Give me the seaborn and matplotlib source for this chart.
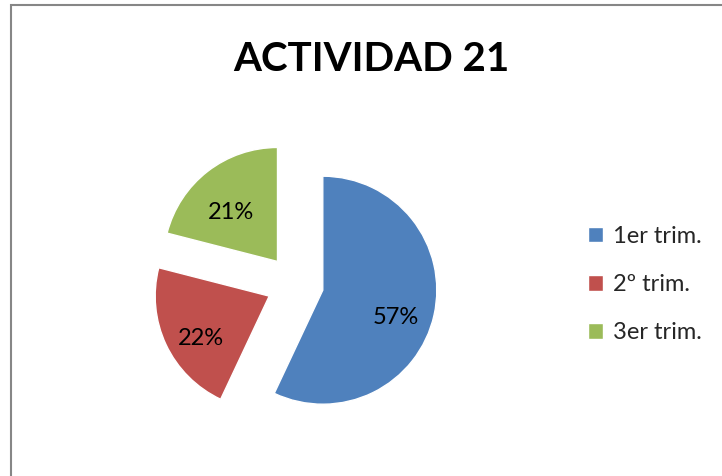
import matplotlib
matplotlib.use("Agg")
import matplotlib.pyplot as plt
import seaborn as sns
from matplotlib.patches import Rectangle

# --- data ---
labels = ["1er trim.", "2º trim.", "3er trim."]
values = [57, 22, 21]
colors = ["#4F81BD", "#C0504D", "#9BBB59"]
title = "ACTIVIDAD 21"

sns.set_theme(style="white")
plt.rcParams["font.family"] = ["Lato", "DejaVu Sans"]

fig = plt.figure(figsize=(7.22, 4.76), dpi=100)
ax = fig.add_axes([0.1875, 0.0681, 0.4421, 0.6706])

wedges, texts, autotexts = ax.pie(
    values, colors=colors, startangle=90, counterclock=False,
    explode=[0.25] * len(values), radius=1.0,
    autopct="%1.0f%%", pctdistance=0.66,
    textprops={"fontsize": 17, "color": "black"},
)
for t in autotexts:
    t.set_va("top")
ax.set_xlim(-1.4, 1.4)
ax.set_ylim(-1.4, 1.4)
ax.set_aspect("equal")
ax.axis("off")

fig.text(0.515, 0.8745, title, ha="center", va="center",
         fontsize=29, fontweight="bold", color="black")

fig.legend(wedges, labels, loc="center left", bbox_to_anchor=(0.785, 0.402),
           frameon=False, fontsize=17, handlelength=0.64, handleheight=0.64,
           handletextpad=0.4, labelspacing=1.15)

# chart border (Excel-style frame, cut off at right/bottom)
fig.patches.append(Rectangle((10.5 / 722, -0.05), 1.2, 1 - 5.5 / 476 + 0.05,
                             transform=fig.transFigure, fill=False,
                             edgecolor="#868686", linewidth=1.5))

plt.savefig("out.png", dpi=100)
plt.close()
